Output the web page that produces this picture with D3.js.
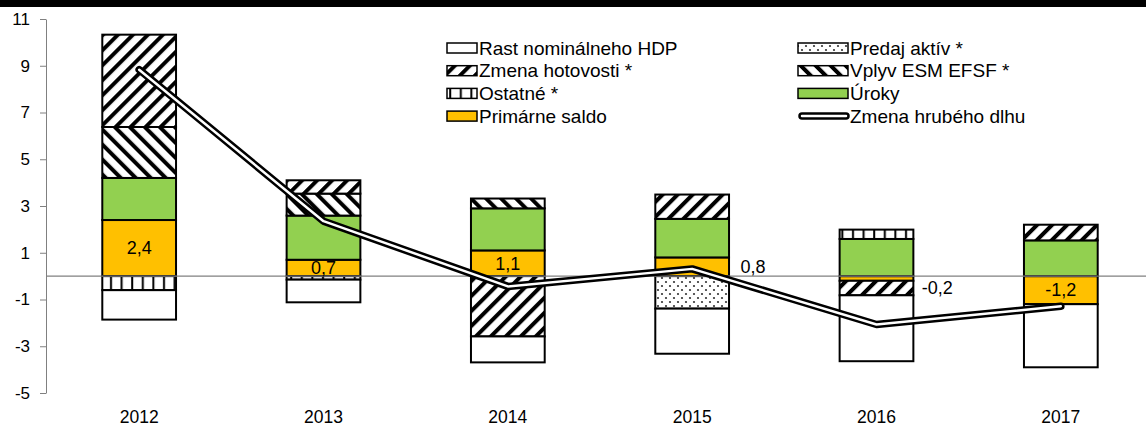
<!DOCTYPE html>
<html>
<head>
<meta charset="utf-8">
<script src="https://cdn.jsdelivr.net/npm/d3@7"></script>
<style>
  body { margin: 0; background: #fff; }
  text { font-family: 'Liberation Sans', Arial, sans-serif; fill: #000; }
</style>
</head>
<body>
<script>
// categories
var years = ['2012', '2013', '2014', '2015', '2016', '2017']

// series values (p.b.)
var saldo = [2.4, 0.7, 1.1, 0.8, -0.2, -1.2]
var uroky = [1.8, 1.89, 1.8, 1.65, 1.59, 1.53]
var ostatne = [-0.6, -0.15, 0, 0, 0.4, 0]
var esm = [2.18, 0.94, 0.42, 0, 0, 0]
var hotovost = [3.95, 0.57, -2.58, 1.04, -0.62, 0.67]
var predaj = [0, 0, 0, -1.39, 0, 0]
var hdp = [-1.26, -0.97, -1.11, -1.93, -2.82, -2.7]
var dlh = [8.83, 2.35, -0.44, 0.31, -2.07, -1.29]

// which saldo labels sit beside the bar instead of inside
var labelOutside = [false, false, false, true, true, false]

// y tick labels
var yTicks = [-5, -3, -1, 1, 3, 5, 7, 9, 11]

var legendNames = ['Rast nominálneho HDP', 'Predaj aktív *', 'Zmena hotovosti *', 'Vplyv ESM EFSF *',
  'Ostatné *', 'Úroky', 'Primárne saldo', 'Zmena hrubého dlhu']

var width = 1146
var height = 429

// stack order: from zero outwards
var keys = ['saldo', 'uroky', 'ostatne', 'esm', 'hotovost', 'predaj', 'hdp']
var fills = {
  hdp: '#fff',
  predaj: 'url(#dots)',
  hotovost: 'url(#fwd)',
  esm: 'url(#back)',
  ostatne: 'url(#vert)',
  uroky: '#92d050',
  saldo: '#ffc000'
}
var legendKeys = ['hdp', 'predaj', 'hotovost', 'esm', 'ostatne', 'uroky', 'saldo', 'dlh']

var table = years.map(function (y, i) {
  return {
    year: y,
    saldo: saldo[i],
    uroky: uroky[i],
    ostatne: ostatne[i],
    esm: esm[i],
    hotovost: hotovost[i],
    predaj: predaj[i],
    hdp: hdp[i]
  }
})

var comma = d3.formatLocale({ decimal: ',', thousands: ' ', grouping: [3], currency: ['', ''], minus: '-' }).format('.1f')

var svg = d3.select('body').append('svg')
  .attr('width', width)
  .attr('height', height)

// patterns
var defs = svg.append('defs')

var p = defs.append('pattern').attr('id', 'fwd')
  .attr('patternUnits', 'userSpaceOnUse')
  .attr('width', 10.6).attr('height', 10.6)
  .attr('patternTransform', 'rotate(45)')
p.append('rect').attr('width', 10.6).attr('height', 10.6).attr('fill', '#fff')
p.append('rect').attr('width', 4).attr('height', 10.6).attr('fill', '#000')

p = defs.append('pattern').attr('id', 'back')
  .attr('patternUnits', 'userSpaceOnUse')
  .attr('width', 10.6).attr('height', 10.6)
  .attr('patternTransform', 'rotate(-45)')
p.append('rect').attr('width', 10.6).attr('height', 10.6).attr('fill', '#fff')
p.append('rect').attr('width', 4).attr('height', 10.6).attr('fill', '#000')

p = defs.append('pattern').attr('id', 'vert')
  .attr('patternUnits', 'userSpaceOnUse')
  .attr('width', 10.6).attr('height', 10)
p.append('rect').attr('width', 10.6).attr('height', 10).attr('fill', '#fff')
p.append('rect').attr('x', 4).attr('width', 2).attr('height', 10).attr('fill', '#000')

p = defs.append('pattern').attr('id', 'dots')
  .attr('patternUnits', 'userSpaceOnUse')
  .attr('width', 8).attr('height', 8)
p.append('rect').attr('width', 8).attr('height', 8).attr('fill', '#fff')
p.append('circle').attr('cx', 2).attr('cy', 2).attr('r', 1.1).attr('fill', '#333')
p.append('circle').attr('cx', 6).attr('cy', 6).attr('r', 1.1).attr('fill', '#333')

// title strip (cut off at the top)
svg.append('rect')
  .attr('width', width)
  .attr('height', 7)
  .attr('fill', '#000')

// scales
var x = d3.scaleBand()
  .domain(years)
  .range([47, 1153])
  .paddingInner(0.6)
  .paddingOuter(0.3)

var y = d3.scaleLinear()
  .domain([-5, 11])
  .range([393, 19])

// y axis
var yAxis = svg.append('g')
  .attr('transform', 'translate(46,0)')
  .call(d3.axisLeft(y).tickValues(yTicks).tickSize(6).tickSizeOuter(0)
    .tickFormat(function (d) { return String(d) }))
yAxis.select('.domain').attr('stroke', '#808080')
yAxis.selectAll('.tick line').attr('stroke', '#808080')
yAxis.selectAll('.tick text')
  .attr('x', -16)
  .style('font-size', '17px')
  .style('font-family', "'Liberation Sans', Arial, sans-serif")

// year labels
svg.selectAll('text.year')
  .data(years)
  .enter().append('text')
  .attr('class', 'year')
  .attr('x', function (d) { return x(d) + x.bandwidth() / 2 })
  .attr('y', 423)
  .attr('text-anchor', 'middle')
  .style('font-size', '17.5px')
  .text(function (d) { return d })

// stacked bars
var series = d3.stack().keys(keys).offset(d3.stackOffsetDiverging)(table)

svg.append('g').selectAll('g')
  .data(series)
  .enter().append('g')
  .attr('fill', function (d) { return fills[d.key] })
  .selectAll('rect')
  .data(function (d) { return d.filter(function (s) { return s[1] !== s[0] }) })
  .enter().append('rect')
  .attr('x', function (d) { return x(d.data.year) })
  .attr('y', function (d) { return y(d[1]) })
  .attr('width', x.bandwidth())
  .attr('height', function (d) { return y(d[0]) - y(d[1]) })
  .attr('stroke', '#000')
  .attr('stroke-width', 2)

// zero line
svg.append('line')
  .attr('x1', 46).attr('x2', width)
  .attr('y1', y(0)).attr('y2', y(0))
  .attr('stroke', '#808080')
  .attr('stroke-width', 1.2)

// saldo labels
var saldoSeries = series[0]
svg.selectAll('text.lbl')
  .data(saldoSeries)
  .enter().append('text')
  .attr('class', 'lbl')
  .attr('x', function (d, i) {
    return labelOutside[i] ? x(d.data.year) + x.bandwidth() + 24 : x(d.data.year) + x.bandwidth() / 2
  })
  .attr('y', function (d, i) {
    var mid = (y(d[0]) + y(d[1])) / 2
    if (labelOutside[i] && d.data.saldo < 0) mid += 9
    return mid
  })
  .attr('dy', '0.35em')
  .attr('text-anchor', 'middle')
  .style('font-size', '18px')
  .text(function (d) { return comma(d.data.saldo) })

// debt change line (double line)
var line = d3.line()
  .x(function (d, i) { return x(years[i]) + x.bandwidth() / 2 })
  .y(function (d) { return y(d) })

svg.append('path')
  .datum(dlh)
  .attr('d', line)
  .attr('fill', 'none')
  .attr('stroke', '#000')
  .attr('stroke-width', 7.5)
  .attr('stroke-linejoin', 'round')
  .attr('stroke-linecap', 'round')

svg.append('path')
  .datum(dlh)
  .attr('d', line)
  .attr('fill', 'none')
  .attr('stroke', '#fff')
  .attr('stroke-width', 2.5)
  .attr('stroke-linejoin', 'round')
  .attr('stroke-linecap', 'round')

// legend
var legend = svg.append('g')
var item = legend.selectAll('g')
  .data(legendKeys)
  .enter().append('g')
  .attr('transform', function (d, i) {
    var col = i % 2
    var row = Math.floor(i / 2)
    return 'translate(' + (col === 0 ? 477 : 848) + ',' + (48 + row * 22.7) + ')'
  })

item.each(function (d, i) {
  var g = d3.select(this)
  var w = i % 2 === 0 ? 30 : 50
  if (d === 'dlh') {
    g.append('line').attr('x1', -w + 4).attr('x2', -2).attr('y1', 0).attr('y2', 0)
      .attr('stroke', '#000').attr('stroke-width', 7.5).attr('stroke-linecap', 'round')
    g.append('line').attr('x1', -w + 4).attr('x2', -2).attr('y1', 0).attr('y2', 0)
      .attr('stroke', '#fff').attr('stroke-width', 2.5).attr('stroke-linecap', 'round')
  } else {
    g.append('rect')
      .attr('x', -w).attr('y', -5)
      .attr('width', w).attr('height', 10)
      .attr('fill', fills[d])
      .attr('stroke', '#000')
      .attr('stroke-width', 1.5)
  }
  g.append('text')
    .attr('x', 2)
    .attr('dy', '0.35em')
    .style('font-size', '19px')
    .text(legendNames[i])
})
</script>
</body>
</html>
